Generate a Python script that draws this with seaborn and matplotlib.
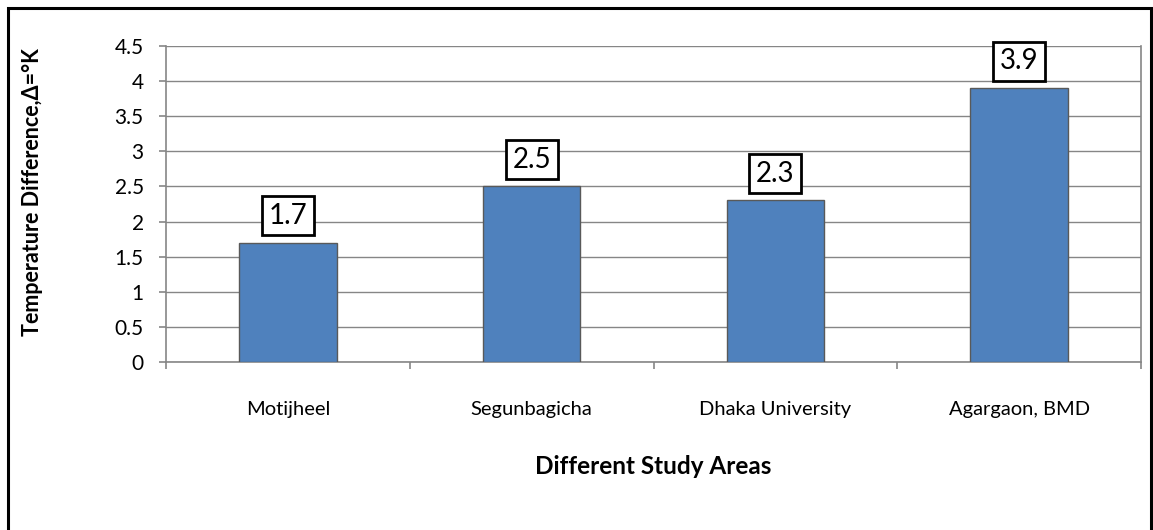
import matplotlib
matplotlib.use("Agg")
import matplotlib.pyplot as plt
import seaborn as sns
import pandas as pd
from matplotlib.patches import Rectangle

areas = ["Motijheel", "Segunbagicha", "Dhaka University", "Agargaon, BMD"]
temp_diff = [1.7, 2.5, 2.3, 3.9]
yticks = [0, 0.5, 1, 1.5, 2, 2.5, 3, 3.5, 4, 4.5]
ytick_labels = ["0", "0.5", "1", "1.5", "2", "2.5", "3", "3.5", "4", "4.5"]

sns.set_theme(style="white")
plt.rcParams['font.family'] = ['Lato', 'DejaVu Sans']

df = pd.DataFrame({"area": areas, "value": temp_diff})

W, H = 1153, 530
L, R, T, B = 166, 1141, 46, 362
fig = plt.figure(figsize=(W / 100, H / 100), dpi=100)
ax = fig.add_axes([L / W, 1 - B / H, (R - L) / W, (B - T) / H])

grid_c = "#868686"
sns.barplot(data=df, x="area", y="value", ax=ax, color="#4F81BD", saturation=1,
            width=0.4, edgecolor="#595959", linewidth=1.0, zorder=3)

ax.set_ylim(0, 4.5)
ax.set_xlim(-0.5, len(areas) - 0.5)
ax.set_yticks(yticks)
ax.set_yticklabels(ytick_labels)
ax.yaxis.grid(True, color=grid_c, linewidth=1.0, zorder=0)
ax.set_axisbelow(True)

for s in ["left", "bottom", "right"]:
    ax.spines[s].set_visible(True)
    ax.spines[s].set_color(grid_c)
    ax.spines[s].set_linewidth(1.2)
ax.spines["top"].set_visible(False)

ax.set_xticks([i for i in range(len(areas))])
ax.set_xticklabels(areas, fontsize=14.5)
ax.tick_params(axis="x", length=0, pad=28, labelcolor="#000000")
ax.set_xticks([i - 0.5 for i in range(len(areas) + 1)], minor=True)
ax.tick_params(axis="x", which="minor", length=5, width=1.2, color=grid_c, direction="out", bottom=True)
ax.tick_params(axis="y", length=5, width=1.2, color=grid_c, direction="out", left=True,
               labelsize=15, pad=11, labelcolor="#000000")

for i, v in enumerate(temp_diff):
    ax.annotate(f"{v}", xy=(i, v), xytext=(0, 10), textcoords="offset points",
                ha="center", va="bottom", fontsize=20, color="#000000",
                bbox=dict(boxstyle="square,pad=0.24", fc="white", ec="black", lw=2))

ax.set_xlabel("Different Study Areas", fontsize=17.5, fontweight="bold", color="#000000")
ax.xaxis.label.set_va("center")
ax.xaxis.set_label_coords(0.5, -(466 - B) / (B - T))
ax.set_ylabel("Temperature Difference,\u0394=\u00b0K", fontsize=15.5, fontweight="bold", color="#000000")
ax.yaxis.label.set_va("center")
ax.yaxis.set_label_coords(-(L - 33) / (R - L), (B - 192) / (B - T))

fig.patches.append(Rectangle((8 / W, -0.05), (1151 - 8) / W, 1.05 - 8 / H, transform=fig.transFigure,
                             fill=False, ec="black", lw=2.2))

fig.savefig("out.png", dpi=100)
